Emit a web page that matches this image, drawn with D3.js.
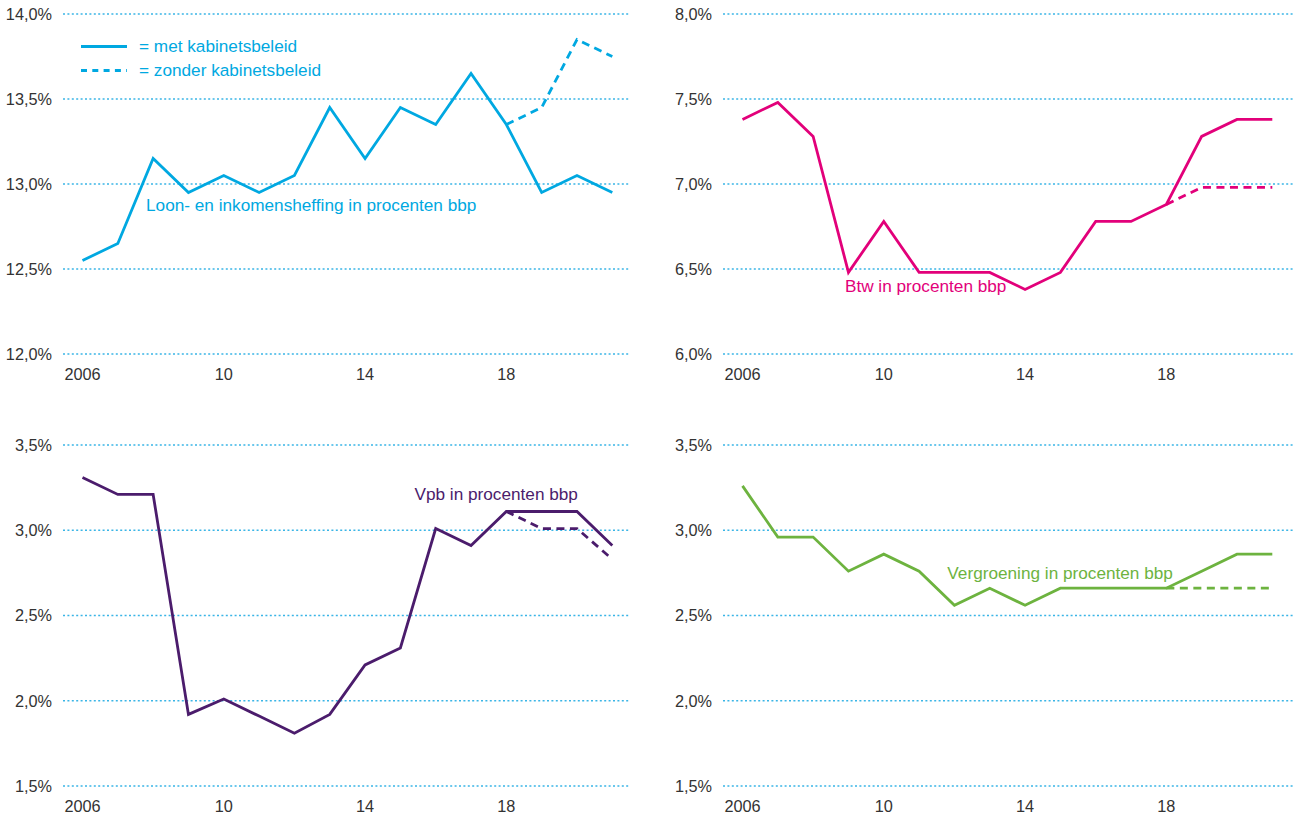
<!DOCTYPE html>
<html>
<head>
<meta charset="utf-8">
<script src="https://cdn.jsdelivr.net/npm/d3@7"></script>
<style>
  html, body { margin: 0; padding: 0; background: #fff; }
  svg { display: block; font-family: "Liberation Sans", Arial, sans-serif; }
</style>
</head>
<body>
<svg id="chart" width="1295" height="816"></svg>
<script>
// Years on the horizontal axis
const years = [2006, 2007, 2008, 2009, 2010, 2011, 2012, 2013, 2014, 2015, 2016, 2017, 2018, 2019, 2020, 2021];
const projYears = [2018, 2019, 2020, 2021];
const xTickYears = [2006, 2010, 2014, 2018];
const xTickLabels = ["2006", "10", "14", "18"];

// Loon- en inkomensheffing (% bbp)
const loonMet = [12.55, 12.65, 13.15, 12.95, 13.05, 12.95, 13.05, 13.45, 13.15, 13.45, 13.35, 13.65, 13.35, 12.95, 13.05, 12.95];
const loonZonder = [13.35, 13.45, 13.85, 13.75];
const loonTicks = [12.0, 12.5, 13.0, 13.5, 14.0];

// Btw (% bbp)
const btwMet = [7.38, 7.48, 7.28, 6.48, 6.78, 6.48, 6.48, 6.48, 6.38, 6.48, 6.78, 6.78, 6.88, 7.28, 7.38, 7.38];
const btwZonder = [6.88, 6.98, 6.98, 6.98];
const btwTicks = [6.0, 6.5, 7.0, 7.5, 8.0];

// Vpb (% bbp)
const vpbMet = [3.31, 3.21, 3.21, 1.92, 2.01, 1.91, 1.81, 1.92, 2.21, 2.31, 3.01, 2.91, 3.11, 3.11, 3.11, 2.91];
const vpbZonder = [3.11, 3.01, 3.01, 2.83];
const vpbTicks = [1.5, 2.0, 2.5, 3.0, 3.5];

// Vergroening (% bbp)
const groenMet = [3.26, 2.96, 2.96, 2.76, 2.86, 2.76, 2.56, 2.66, 2.56, 2.66, 2.66, 2.66, 2.66, 2.76, 2.86, 2.86];
const groenZonder = [2.66, 2.66, 2.66, 2.66];
const groenTicks = [1.5, 2.0, 2.5, 3.0, 3.5];

const legendLabels = ["= met kabinetsbeleid", "= zonder kabinetsbeleid"];

const gridColor = "#3ab5e6";
const textColor = "#333333";

const panels = [
  { met: loonMet, zonder: loonZonder, ticks: loonTicks, color: "#00a8e1",
    title: "Loon- en inkomensheffing in procenten bbp", titleYear: 2007.8, titleVal: 12.84,
    ox: 0, top: 14, bottom: 354, gridEnd: 630, legend: true },
  { met: btwMet, zonder: btwZonder, ticks: btwTicks, color: "#e2007a",
    title: "Btw in procenten bbp", titleYear: 2008.9, titleVal: 6.365,
    ox: 660, top: 14, bottom: 354, gridEnd: 1295 },
  { met: vpbMet, zonder: vpbZonder, ticks: vpbTicks, color: "#4b1c6c",
    title: "Vpb in procenten bbp", titleYear: 2015.4, titleVal: 3.18,
    ox: 0, top: 445, bottom: 786, gridEnd: 630 },
  { met: groenMet, zonder: groenZonder, ticks: groenTicks, color: "#6db33f",
    title: "Vergroening in procenten bbp", titleYear: 2011.8, titleVal: 2.714,
    ox: 660, top: 445, bottom: 786, gridEnd: 1295 }
];

const fmt = v => d3.format(".1f")(v).replace(".", ",") + "%";
const svg = d3.select("#chart");

panels.forEach(p => {
  const g = svg.append("g");
  const x = d3.scaleLinear().domain([2006, 2021]).range([p.ox + 82.5, p.ox + 612.3]);
  const y = d3.scaleLinear().domain(d3.extent(p.ticks)).range([p.bottom, p.top]);
  const gridStart = p.ox + 63;

  // dotted horizontal grid lines
  g.selectAll("line.grid").data(p.ticks).join("line")
    .attr("class", "grid")
    .attr("x1", gridStart).attr("x2", p.gridEnd)
    .attr("y1", d => y(d)).attr("y2", d => y(d))
    .attr("stroke", gridColor).attr("stroke-width", 1.4)
    .attr("stroke-dasharray", "2,2.4");

  // y tick labels
  g.selectAll("text.ytick").data(p.ticks).join("text")
    .attr("class", "ytick")
    .attr("x", p.ox + 52).attr("y", d => y(d) + 5.8)
    .attr("text-anchor", "end")
    .attr("font-size", 16.3).attr("fill", textColor)
    .text(fmt);

  // x tick labels
  g.selectAll("text.xtick").data(xTickYears).join("text")
    .attr("class", "xtick")
    .attr("x", d => x(d)).attr("y", p.bottom + 26)
    .attr("text-anchor", "middle")
    .attr("font-size", 16.3).attr("fill", textColor)
    .text((d, i) => xTickLabels[i]);

  const line = d3.line().x(d => x(d[0])).y(d => y(d[1]));

  // projection without cabinet policy (dashed)
  g.append("path")
    .datum(projYears.map((yr, i) => [yr, p.zonder[i]]))
    .attr("d", line).attr("fill", "none")
    .attr("stroke", p.color).attr("stroke-width", 2.8)
    .attr("stroke-dasharray", "8,5.5");

  // series with cabinet policy (solid)
  g.append("path")
    .datum(years.map((yr, i) => [yr, p.met[i]]))
    .attr("d", line).attr("fill", "none")
    .attr("stroke", p.color).attr("stroke-width", 2.8)
    .attr("stroke-linejoin", "miter");

  // series label
  g.append("text")
    .attr("x", x(p.titleYear)).attr("y", y(p.titleVal))
    .attr("font-size", 17.2).attr("fill", p.color)
    .text(p.title);

  if (p.legend) {
    const lg = g.append("g");
    [0, 1].forEach(i => {
      const ly = 46.5 + i * 24;
      lg.append("line")
        .attr("x1", 81).attr("x2", 127).attr("y1", ly).attr("y2", ly)
        .attr("stroke", p.color).attr("stroke-width", 2.8)
        .attr("stroke-dasharray", i === 0 ? null : "6,5.3");
      lg.append("text")
        .attr("x", 139).attr("y", ly + 5.8)
        .attr("font-size", 17.2).attr("fill", p.color)
        .text(legendLabels[i]);
    });
  }
});
</script>
</body>
</html>
